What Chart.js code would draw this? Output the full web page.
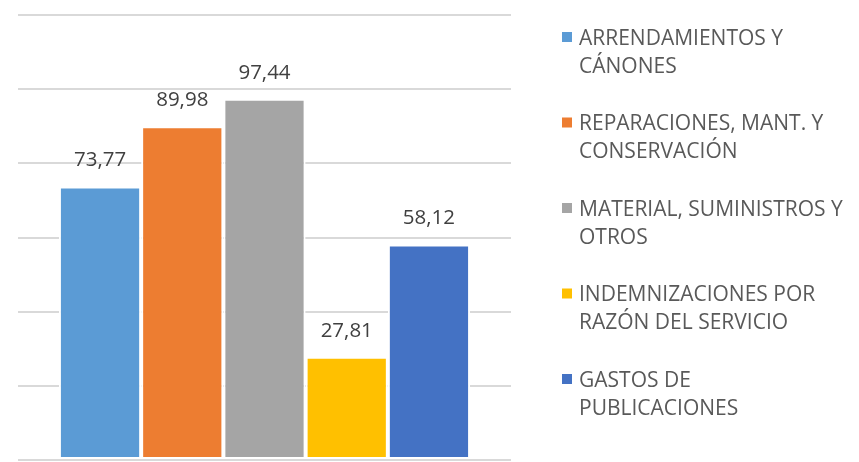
<!DOCTYPE html>
<html>
<head>
<meta charset="utf-8">
<script src="https://cdn.jsdelivr.net/npm/chart.js@4/dist/chart.umd.min.js"></script>
<style>
html,body{margin:0;padding:0;background:#fff;}
#wrap{position:relative;width:859px;height:462px;}
</style>
</head>
<body>
<div id="wrap"><canvas id="c" width="859" height="462"></canvas></div>
<script>
const categories = [""];
const seriesNames = [
  ["ARRENDAMIENTOS Y", "CÁNONES"],
  ["REPARACIONES, MANT. Y", "CONSERVACIÓN"],
  ["MATERIAL, SUMINISTROS Y", "OTROS"],
  ["INDEMNIZACIONES POR", "RAZÓN DEL SERVICIO"],
  ["GASTOS DE", "PUBLICACIONES"]
];
const seriesValues = [73.77, 89.98, 97.44, 27.81, 58.12];
const seriesLabels = ["73,77", "89,98", "97,44", "27,81", "58,12"];
const seriesColors = ["#5B9BD5", "#ED7D31", "#A5A5A5", "#FFC000", "#4472C4"];
const yMin = 0, yMax = 120, yStep = 20;

const datasets = seriesValues.map((v, i) => ({
  label: seriesNames[i].join(" "),
  data: [v],
  backgroundColor: seriesColors[i],
  borderColor: "#ffffff",
  borderWidth: 2,
  borderSkipped: false,
  categoryPercentage: 0.834,
  barPercentage: 1.0
}));

const valueLabels = {
  id: "valueLabels",
  afterDatasetsDraw(chart) {
    const ctx = chart.ctx;
    ctx.save();
    ctx.font = "20.5px 'Open Sans'";
    ctx.fillStyle = "#404040";
    ctx.textAlign = "center";
    ctx.textBaseline = "alphabetic";
    chart.data.datasets.forEach((ds, i) => {
      const el = chart.getDatasetMeta(i).data[0];
      ctx.fillText(seriesLabels[i], el.x, el.y - 20);
    });
    ctx.restore();
  }
};

const sideLegend = {
  id: "sideLegend",
  afterDraw(chart) {
    const ctx = chart.ctx;
    ctx.save();
    ctx.font = "21px 'Open Sans'";
    ctx.textAlign = "left";
    ctx.textBaseline = "alphabetic";
    const x0 = 562, top0 = 32, step = 85.5;
    seriesNames.forEach((lines, i) => {
      const y = top0 + i * step;
      ctx.fillStyle = seriesColors[i];
      ctx.fillRect(x0, y, 10, 10);
      ctx.fillStyle = "#595959";
      lines.forEach((t, j) => {
        ctx.fillText(t, 579, y + 12.5 + j * 28.4);
      });
    });
    ctx.restore();
  }
};

new Chart(document.getElementById("c"), {
  type: "bar",
  data: { labels: categories, datasets },
  options: {
    responsive: false,
    animation: false,
    devicePixelRatio: 1,
    layout: { padding: { left: 18, right: 348, top: 15, bottom: 2 } },
    plugins: {
      legend: { display: false },
      tooltip: { enabled: false }
    },
    scales: {
      x: {
        display: false,
        grid: { display: false }
      },
      y: {
        min: yMin, max: yMax,
        ticks: { display: false, stepSize: yStep },
        border: { display: false },
        grid: { color: "#D9D9D9", lineWidth: 2, drawTicks: false }
      }
    }
  },
  plugins: [valueLabels, sideLegend]
});
</script>
</body>
</html>
